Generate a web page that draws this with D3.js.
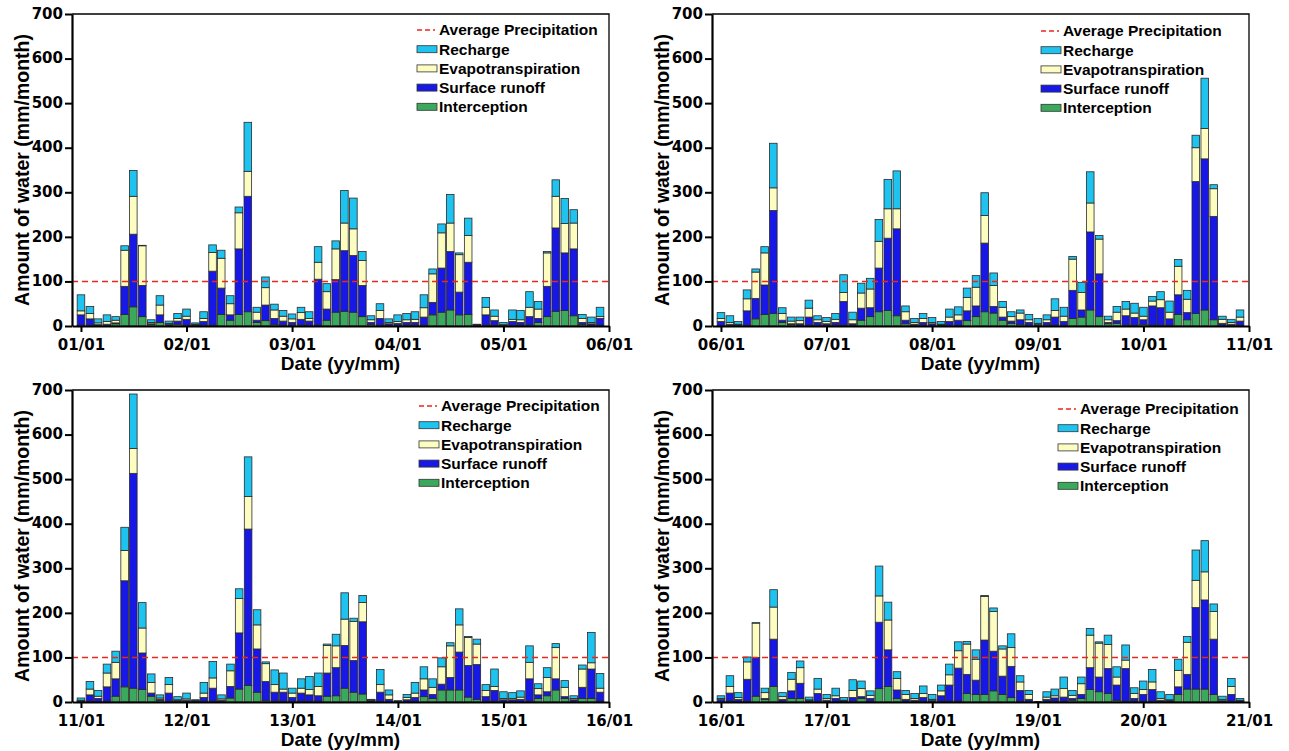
<!DOCTYPE html>
<html><head><meta charset="utf-8">
<script src="https://cdn.jsdelivr.net/npm/d3@7"></script>
<style>body{margin:0;background:#fff;} svg{display:block;font-family:"Liberation Sans",Arial,sans-serif;}</style>
</head><body><svg id="c" width="1289" height="751"></svg>
<script>
const seriesNames = ["Interception", "Surface runoff", "Evapotranspiration", "Recharge"];
const seriesColors = ["#3aa95c", "#1717e6", "#fdfdc2", "#1ec4ef"];
const legendOrder = ["Recharge", "Evapotranspiration", "Surface runoff", "Interception"];
const avgLabel = "Average Precipitation";
const startYears = [2001, 2006, 2011, 2016];
const avgPrecip = 100;
const yTicks = [0, 100, 200, 300, 400, 500, 600, 700];

// monthly values, Jan 2001 .. Dec 2020 (mm/month)
const interception = [
 2,2,1,1,5,26,43,21,4,8,2,4, 2,1,2,2,26,13,26,32,8,12,3,2, 2,2,2,2,13,31,33,31,21,3,2,2, 2,2,2,2,25,31,36,25,26,1,2,2, 1,2,2,2,8,21,33,35,23,3,2,2,
 1,1,1,2,16,26,28,8,3,2,2,2, 2,2,2,2,13,21,32,35,23,5,2,2, 1,1,2,2,12,21,32,29,13,6,3,2, 1,2,2,2,17,20,36,21,5,6,2,2, 3,2,2,2,26,14,28,36,14,2,1,2,
 1,2,1,2,13,34,31,28,13,3,2,1, 1,1,2,2,1,9,29,37,22,3,2,2, 2,2,2,2,13,14,31,22,18,1,2,1, 1,1,2,12,8,27,27,27,11,6,2,2, 1,1,1,2,8,14,27,8,2,8,8,2,
 1,2,1,2,13,6,35,2,8,8,1,2, 1,1,1,2,8,2,30,35,8,2,1,2, 1,2,2,2,19,17,17,25,17,10,2,2, 0,2,2,2,4,8,28,23,19,4,2,2, 2,2,1,1,17,29,29,29,17,1,2,1
];
const runoff = [
 23,14,2,3,2,63,163,70,1,17,2,7, 13,2,8,121,59,12,147,259,5,35,14,9, 6,13,9,103,25,73,136,127,70,5,15,3, 4,6,6,18,28,99,131,51,117,1,23,10, 1,8,6,19,9,68,187,129,150,5,3,15,
 9,3,2,32,46,66,231,5,2,3,18,6, 3,6,53,3,27,20,98,162,195,8,2,6, 4,2,8,11,22,24,154,15,7,5,11,6, 3,6,18,8,63,16,175,96,3,6,21,17, 11,43,39,14,44,16,296,339,232,4,3,9,
 2,14,7,32,39,238,482,82,7,3,18,2, 3,2,8,29,3,26,126,351,97,43,20,20, 8,18,14,12,52,63,96,71,162,2,20,5, 1,4,8,15,9,13,28,85,71,78,10,24, 4,4,5,50,8,9,25,4,3,25,66,20,
 5,18,5,49,87,2,106,4,17,34,2,17, 3,7,2,8,4,6,149,82,19,4,3,8, 3,12,36,74,43,32,122,89,41,70,24,4, 1,4,7,9,4,9,49,33,56,34,73,6, 15,26,3,2,17,33,183,200,124,2,15,2
];
const evapotranspiration = [
 9,12,4,6,6,81,85,89,3,22,2,6, 7,1,7,42,67,25,81,56,18,39,19,11, 8,15,6,38,39,69,62,60,56,6,18,3, 4,6,7,21,64,79,64,84,60,1,17,10, 1,5,6,21,21,75,71,66,58,9,3,4,
 7,4,1,27,59,72,51,15,6,7,20,6, 5,7,20,9,34,42,60,66,45,19,4,9, 3,1,10,12,30,42,62,47,22,10,15,6, 2,6,15,12,70,39,65,78,6,19,15,10, 8,11,18,15,64,30,76,68,62,9,4,9,
 1,13,5,31,37,68,56,56,24,3,19,2, 3,1,10,23,3,35,77,73,54,40,17,7, 10,11,12,21,62,49,59,88,43,1,17,10, 0,5,10,25,16,39,71,61,63,46,14,9, 3,3,5,37,14,32,70,21,3,41,14,9,
 2,15,4,39,77,13,72,6,26,35,2,10, 4,6,1,16,18,7,59,67,26,11,4,9, 2,11,23,39,68,47,98,89,61,42,19,11, 0,5,5,19,7,24,73,76,54,18,19,11, 11,17,4,2,37,72,61,63,62,3,18,1
];
const recharge = [
 36,16,9,15,8,10,58,1,6,21,5,11, 16,3,15,17,18,18,13,110,11,24,13,13, 11,12,15,35,18,18,73,69,20,9,15,8, 15,14,17,29,11,20,64,4,39,1,22,14, 5,21,21,35,17,3,37,56,30,9,12,21,
 13,15,6,20,7,14,100,13,9,8,18,9, 9,13,40,17,22,24,49,66,85,13,9,11, 11,6,18,18,21,26,51,28,13,11,7,12, 11,11,26,20,6,23,70,8,8,13,17,22, 20,10,18,25,15,20,28,113,9,7,7,16,
 5,17,13,20,25,52,122,57,19,7,16,7, 13,1,24,37,9,15,22,89,34,4,33,36, 11,21,29,30,3,26,59,7,16,2,34,11, 1,7,24,27,19,20,7,36,2,11,13,39, 15,13,14,37,11,22,9,15,6,9,68,33,
 6,24,11,11,1,10,39,9,15,15,6,24, 9,17,6,24,17,10,67,40,15,9,11,17, 11,13,24,20,6,21,2,8,7,31,14,9, 0,12,15,26,11,15,15,3,21,23,34,13, 19,28,15,12,25,13,68,70,17,7,18,4
];

// panel geometry
const panels = [
  {left: 72,  top: 14,  legX: 439,  legY: 30},
  {left: 712, top: 14,  legX: 1063, legY: 31},
  {left: 72,  top: 390, legX: 441,  legY: 406},
  {left: 712, top: 390, legX: 1080, legY: 409}
];
const W = 537, H = 312, barW = 7.6;
const tickFont = "'DejaVu Sans',Verdana,sans-serif";

const svg = d3.select("#c");
const months = d3.timeMonth.range(new Date(2001, 0, 1), new Date(2021, 0, 1));
const rows = months.map((d, i) => ({
  date: d,
  "Interception": interception[i],
  "Surface runoff": runoff[i],
  "Evapotranspiration": evapotranspiration[i],
  "Recharge": recharge[i]
}));
const color = d3.scaleOrdinal().domain(seriesNames).range(seriesColors);
const stack = d3.stack().keys(seriesNames);

panels.forEach((p, pi) => {
  const y0 = startYears[pi];
  const data = rows.slice(pi * 60, pi * 60 + 60);
  const x = d3.scaleTime().domain([new Date(y0 - 1, 11, 1), new Date(y0 + 5, 0, 1)]).range([p.left, p.left + W]);
  const y = d3.scaleLinear().domain([0, 700]).range([p.top + H, p.top]);
  const g = svg.append("g");

  // bars
  const layers = stack(data);
  g.selectAll("g.layer").data(layers).join("g")
    .attr("fill", d => color(d.key))
    .selectAll("rect").data(d => d).join("rect")
    .attr("x", d => x(d.data.date) - barW / 2)
    .attr("width", barW)
    .attr("y", d => y(d[1]))
    .attr("height", d => Math.max(0, y(d[0]) - y(d[1])))
    .attr("stroke", "#2a2a2a").attr("stroke-width", 0.8);

  // average precipitation line
  g.append("line")
    .attr("x1", p.left).attr("x2", p.left + W)
    .attr("y1", y(avgPrecip)).attr("y2", y(avgPrecip))
    .attr("stroke", "#e8281e").attr("stroke-width", 1.5).attr("stroke-dasharray", "6,4");

  // frame top/right
  g.append("path")
    .attr("d", `M${p.left},${p.top}H${p.left + W}V${p.top + H}`)
    .attr("fill", "none").attr("stroke", "#000").attr("stroke-width", 1.3);

  // axes
  const xa = g.append("g").attr("transform", `translate(0,${p.top + H})`)
    .call(d3.axisBottom(x)
      .tickValues(d3.timeYear.range(new Date(y0, 0, 1), new Date(y0 + 5, 0, 2)))
      .tickFormat(d3.timeFormat("%y/%m"))
      .tickSize(6).tickSizeOuter(0).tickPadding(7));
  const ya = g.append("g").attr("transform", `translate(${p.left},0)`)
    .call(d3.axisLeft(y).tickValues(yTicks).tickSize(7).tickSizeOuter(0).tickPadding(2));
  [xa, ya].forEach(a => {
    a.select(".domain").attr("stroke-width", 2.2);
    a.selectAll(".tick line").attr("stroke-width", 2);
    a.selectAll("text").attr("font-size", 15).attr("font-weight", "bold")
      .attr("font-family", tickFont).attr("fill", "#000");
  });
  ya.selectAll("text").attr("dy", "0.28em");

  // titles
  g.append("text")
    .attr("transform", `translate(${p.left - 50},${p.top + H / 2}) rotate(-90)`)
    .attr("text-anchor", "middle").attr("dy", "0.35em")
    .attr("font-size", 19.5).attr("font-weight", "bold").text("Amount of water (mm/month)");
  g.append("text")
    .attr("x", p.left + W / 2).attr("y", p.top + H + 44)
    .attr("text-anchor", "middle")
    .attr("font-size", 19).attr("font-weight", "bold").text("Date (yy/mm)");

  // legend
  const lg = g.append("g");
  lg.append("line")
    .attr("x1", p.legX - 22).attr("x2", p.legX - 4)
    .attr("y1", p.legY).attr("y2", p.legY)
    .attr("stroke", "#e8281e").attr("stroke-width", 1.5).attr("stroke-dasharray", "5,3");
  lg.append("text").attr("x", p.legX).attr("y", p.legY).attr("dy", "0.35em")
    .attr("font-size", 15.5).attr("font-weight", "bold").text(avgLabel);
  legendOrder.forEach((k, i) => {
    const ly = p.legY + (i + 1) * 19.2;
    lg.append("rect").attr("x", p.legX - 22).attr("y", ly - 3.5).attr("width", 20).attr("height", 7)
      .attr("fill", color(k)).attr("stroke", "#333").attr("stroke-width", 0.8);
    lg.append("text").attr("x", p.legX).attr("y", ly).attr("dy", "0.35em")
      .attr("font-size", 15.5).attr("font-weight", "bold").text(k);
  });
});
</script>
</body></html>
